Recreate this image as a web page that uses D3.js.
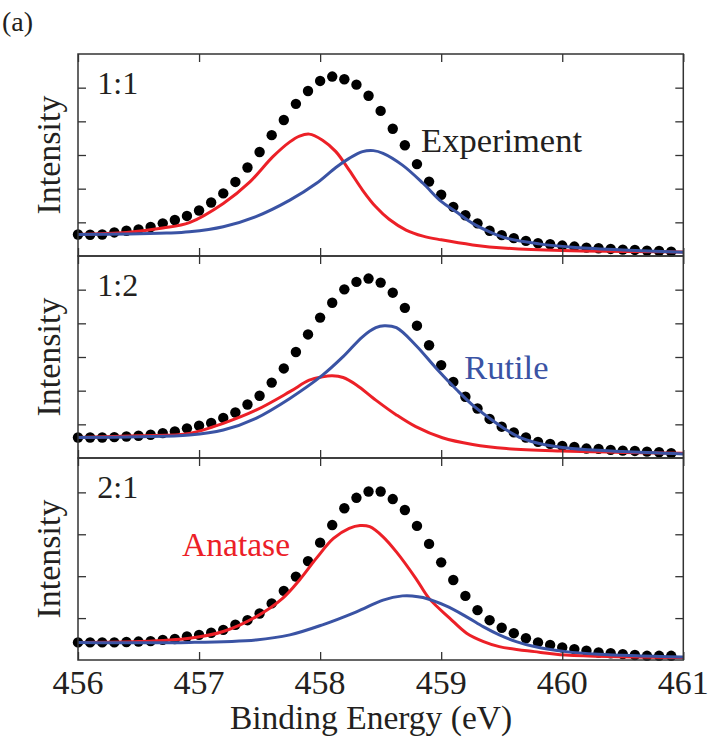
<!DOCTYPE html>
<html><head><meta charset="utf-8">
<script src="https://cdn.jsdelivr.net/npm/d3@7"></script>
<style>body{margin:0;background:#fff} svg{display:block} text{font-family:"Liberation Serif","DejaVu Serif","Noto Serif",serif}</style>
</head><body>
<svg id="chart" width="708" height="740"></svg>
<script>
// ---------- DATA ----------
const energies = [456.0,456.1,456.2,456.3,456.4,456.5,456.6,456.7,456.8,456.9,
  457.0,457.1,457.2,457.3,457.4,457.5,457.6,457.7,457.8,457.9,
  458.0,458.1,458.2,458.3,458.4,458.5,458.6,458.7,458.8,458.9,
  459.0,459.1,459.2,459.3,459.4,459.5,459.6,459.7,459.8,459.9,
  460.0,460.1,460.2,460.3,460.4,460.5,460.6,460.7,460.8,460.9];

const expt11 = [0.64,0.63,0.64,0.70,0.75,0.79,0.86,0.97,1.07,1.19,1.35,1.59,1.86,2.20,2.63,3.09,3.59,4.04,4.52,4.90,5.20,5.33,5.25,5.09,4.76,4.31,3.78,3.29,2.73,2.21,1.82,1.46,1.21,0.97,0.75,0.62,0.53,0.45,0.38,0.35,0.31,0.28,0.25,0.23,0.21,0.19,0.18,0.16,0.15,0.13];
const expt12 = [0.61,0.61,0.61,0.62,0.64,0.66,0.69,0.74,0.79,0.88,0.96,1.04,1.19,1.35,1.59,1.85,2.24,2.66,3.15,3.67,4.17,4.61,5.01,5.23,5.33,5.21,4.91,4.46,3.93,3.35,2.76,2.26,1.82,1.47,1.16,0.93,0.76,0.61,0.48,0.42,0.36,0.33,0.28,0.27,0.24,0.22,0.21,0.19,0.17,0.14];
const expt21 = [0.42,0.42,0.42,0.42,0.43,0.44,0.45,0.48,0.50,0.56,0.60,0.65,0.72,0.84,0.95,1.11,1.35,1.65,1.99,2.36,2.80,3.22,3.62,3.87,4.02,4.02,3.84,3.58,3.20,2.77,2.33,1.91,1.53,1.19,0.95,0.77,0.64,0.52,0.42,0.36,0.30,0.26,0.22,0.18,0.16,0.14,0.12,0.10,0.10,0.10];

// fitted components: [binding energy, intensity]
const anatase11 = [[456.0,0.64],[456.4,0.70],[456.7,0.83],[456.92,0.99],[457.2,1.56],[457.42,2.20],[457.61,2.95],[457.75,3.39],[457.83,3.56],[457.91,3.62],[458.02,3.44],[458.13,3.10],[458.24,2.55],[458.35,1.96],[458.46,1.46],[458.57,1.09],[458.71,0.77],[458.85,0.59],[459.0,0.48],[459.26,0.33],[459.54,0.23],[460.0,0.16],[461.0,0.12]];
const rutile11 = [[456.0,0.64],[456.42,0.65],[456.73,0.68],[456.92,0.72],[457.2,0.87],[457.47,1.17],[457.75,1.66],[457.97,2.16],[458.13,2.63],[458.24,2.90],[458.35,3.10],[458.44,3.13],[458.52,3.05],[458.68,2.70],[458.85,2.16],[459.0,1.62],[459.12,1.32],[459.26,0.97],[459.4,0.72],[459.54,0.53],[459.81,0.36],[460.08,0.26],[460.5,0.18],[461.0,0.11]];
const anatase12 = [[456.0,0.61],[456.5,0.66],[456.92,0.73],[457.2,1.03],[457.47,1.42],[457.75,1.97],[457.91,2.31],[458.02,2.41],[458.1,2.44],[458.19,2.39],[458.3,2.17],[458.46,1.72],[458.63,1.28],[458.79,0.93],[459.01,0.60],[459.26,0.40],[459.54,0.28],[459.99,0.21],[461.0,0.14]];
const rutile12 = [[456.0,0.61],[456.5,0.63],[456.92,0.68],[457.2,0.83],[457.47,1.18],[457.75,1.77],[458.02,2.46],[458.19,3.01],[458.35,3.60],[458.46,3.87],[458.53,3.93],[458.63,3.87],[458.79,3.35],[458.96,2.66],[459.13,2.02],[459.26,1.57],[459.4,1.18],[459.54,0.83],[459.67,0.58],[459.81,0.43],[460.08,0.28],[460.5,0.19],[461.0,0.12]];
const anatase21 = [[456.0,0.42],[456.5,0.44],[456.92,0.52],[457.2,0.68],[457.47,1.03],[457.69,1.47],[457.83,1.91],[457.97,2.43],[458.11,2.90],[458.24,3.14],[458.33,3.21],[458.41,3.18],[458.52,2.94],[458.63,2.58],[458.79,1.95],[458.9,1.47],[459.07,1.00],[459.21,0.64],[459.35,0.44],[459.48,0.32],[459.77,0.20],[460.03,0.12],[461.0,0.06]];
const rutile21 = [[456.0,0.42],[456.92,0.42],[457.47,0.48],[457.75,0.60],[458.02,0.84],[458.3,1.15],[458.52,1.43],[458.68,1.53],[458.76,1.53],[458.85,1.49],[459.04,1.29],[459.21,1.03],[459.35,0.79],[459.48,0.60],[459.62,0.44],[459.77,0.32],[460.03,0.20],[460.3,0.14],[461.0,0.07]];

const xTicks = [456,457,458,459,460,461];
const yTicks12 = [1,2,3,4,5];
const yTicks3 = [1,2,3,4];
const panelLabels = ["1:1","1:2","2:1"];
const yMax = [6,6,4.82];

// ---------- LAYOUT ----------
const svg = d3.select("#chart");
const L = 78, R = 683.3, T = 54, PH = 202;
const RED = "#ec2027", BLUE = "#3a53a4", INK = "#231f20";

const x = d3.scaleLinear().domain([456,461]).range([L,R]);

const panels = [
  {label: panelLabels[0], ymax: yMax[0], yt: yTicks12, expt: expt11, ana: anatase11, rut: rutile11},
  {label: panelLabels[1], ymax: yMax[1], yt: yTicks12, expt: expt12, ana: anatase12, rut: rutile12},
  {label: panelLabels[2], ymax: yMax[2], yt: yTicks3,  expt: expt21, ana: anatase21, rut: rutile21}
];

panels.forEach((p, k) => {
  const top = T + k*PH, bot = top + PH;
  const y = d3.scaleLinear().domain([0, p.ymax]).range([bot, top]);
  p.y = y;
  const g = svg.append("g");

  g.append("g").selectAll("circle").data(p.expt).join("circle")
    .attr("cx", (d,i) => x(energies[i])).attr("cy", d => y(d))
    .attr("r", 5.2).attr("fill", "#000");

  const line = d3.line().x(d => x(d[0])).y(d => y(d[1])).curve(d3.curveCatmullRom.alpha(0.5));
  g.append("path").datum(p.ana).attr("d", line)
    .attr("fill","none").attr("stroke",RED).attr("stroke-width",3);
  g.append("path").datum(p.rut).attr("d", line)
    .attr("fill","none").attr("stroke",BLUE).attr("stroke-width",3);

  const tk = 8;
  const styleAxis = sel => { sel.select(".domain").remove(); sel.selectAll("line").attr("stroke","#333").attr("stroke-width",1.3); sel.selectAll("text").remove(); };
  g.append("g").attr("transform",`translate(0,${top})`)
    .call(d3.axisBottom(x).tickValues(xTicks).tickSize(tk)).call(styleAxis);
  g.append("g").attr("transform",`translate(0,${bot})`)
    .call(d3.axisTop(x).tickValues(xTicks).tickSize(tk)).call(styleAxis);
  g.append("g").attr("transform",`translate(${L},0)`)
    .call(d3.axisRight(y).tickValues(p.yt).tickSize(tk)).call(styleAxis);
  g.append("g").attr("transform",`translate(${R},0)`)
    .call(d3.axisLeft(y).tickValues(p.yt).tickSize(tk)).call(styleAxis);

  g.append("rect").attr("x",L).attr("y",top).attr("width",R-L).attr("height",PH)
    .attr("fill","none").attr("stroke","#333").attr("stroke-width",1.5);

  g.append("text").attr("x", x(456.16)).attr("y", top + 40)
    .attr("font-size",32).attr("fill",INK).text(p.label);

  g.append("text").attr("transform",`translate(60,${(top+bot)/2}) rotate(-90)`)
    .attr("text-anchor","middle").attr("font-size",34)
    .attr("fill",INK).text("Intensity");
});

svg.append("text").attr("x", x(458.834)).attr("y", panels[0].y(3.10))
  .attr("font-size",34.5).attr("fill",INK).text("Experiment");
svg.append("text").attr("x", x(459.19)).attr("y", panels[1].y(2.35))
  .attr("font-size",34.5).attr("fill",BLUE).text("Rutile");
svg.append("text").attr("x", x(456.86)).attr("y", panels[2].y(2.48))
  .attr("font-size",33.5).attr("fill",RED).text("Anatase");

const bottom = T + 3*PH;
svg.append("g").selectAll("text").data(xTicks).join("text")
  .attr("x", d => x(d)).attr("y", bottom + 34)
  .attr("text-anchor","middle").attr("font-size",34)
  .attr("fill",INK).text(d => d);

svg.append("text").attr("x", 371).attr("y", 729)
  .attr("text-anchor","middle").attr("font-size",33.5)
  .attr("fill",INK).text("Binding Energy (eV)");

svg.append("text").attr("x", 2).attr("y", 31)
  .attr("font-size",28).attr("fill",INK).text("(a)");
</script>
</body></html>
